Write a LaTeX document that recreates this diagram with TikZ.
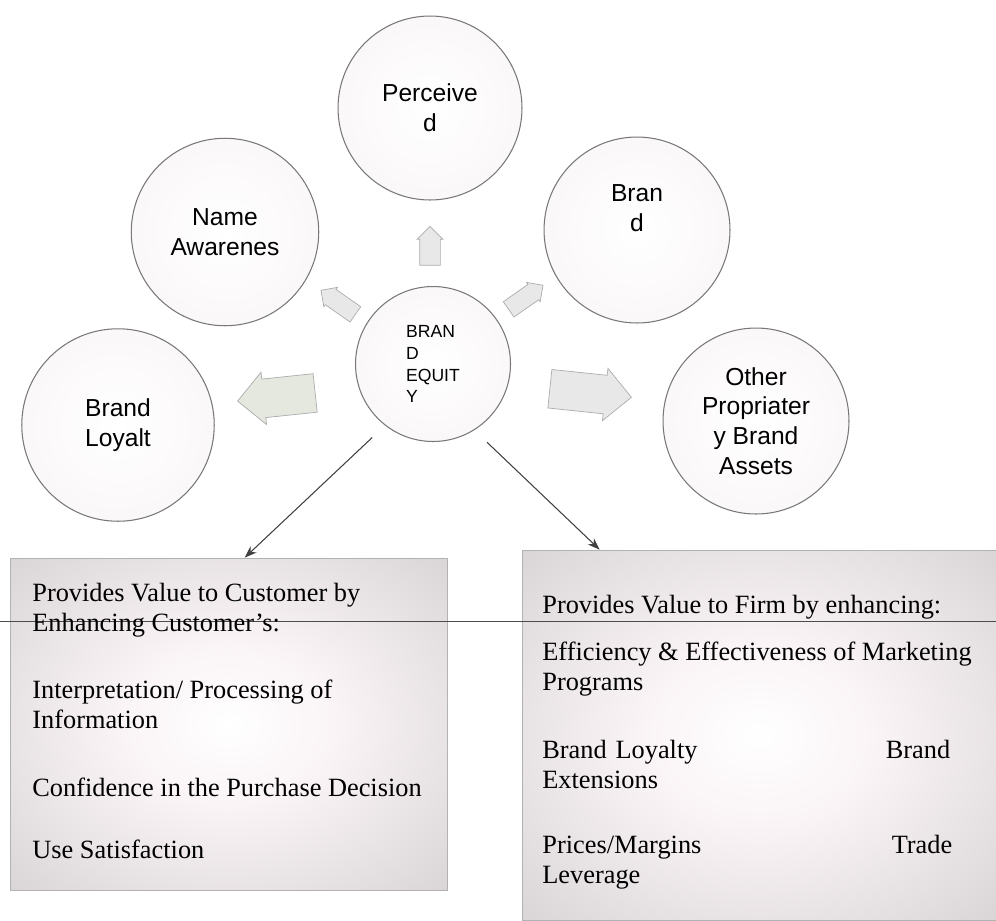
\documentclass[tikz,border=0pt]{standalone}
\usepackage{fontspec}
\setmainfont{Liberation Serif}
\setsansfont{Liberation Sans}
\usetikzlibrary{arrows.meta, shapes.arrows, calc}
\definecolor{bubbleedge}{RGB}{120,120,120}
\definecolor{bubbleshade}{RGB}{222,217,219}
\definecolor{bubblepink}{RGB}{250,246,248}
\definecolor{arrowfill}{RGB}{232,232,232}
\definecolor{arrowgreen}{RGB}{228,232,223}
\definecolor{boxgrey}{RGB}{200,196,197}
\definecolor{boxcentre}{RGB}{250,244,246}
\pgfdeclareradialshading{bubblefade}{\pgfpoint{0bp}{0bp}}{%
  color(0bp)=(white); color(30bp)=(bubblepink); color(44bp)=(bubblepink!70!bubbleshade);
  color(50bp)=(bubbleshade)}
\pgfdeclareradialshading{boxfade}{\pgfpoint{0bp}{0bp}}{%
  color(0bp)=(white); color(12bp)=(boxcentre); color(48bp)=(boxgrey); color(75bp)=(boxgrey)}
\tikzset{
  bubble/.style={circle, minimum size=3.75cm, inner sep=0pt, draw=bubbleedge,
    line width=0.6pt, shading=bubblefade,
    align=center, font=\sffamily\fontsize{14}{17}\selectfont},
  hubbubble/.style={bubble, minimum size=3.1cm, align=left,
    font=\sffamily\fontsize{10}{12.5}\selectfont},
  fatarrow/.style={single arrow, draw=gray!65, fill=arrowfill, inner xsep=0pt},
  valuebox/.style={rectangle, draw=gray!60, shading=boxfade},
  valuetext/.style={anchor=north west, inner sep=0pt, align=left,
    font=\fontsize{15}{17}\selectfont},
  link/.style={draw=black!75, line width=0.6pt, -{Stealth[length=7pt, width=5pt]},
    shorten <=10pt},
}

\begin{document}
\begin{tikzpicture}[x=0.02cm, y=-0.02cm]
\useasboundingbox (0,0) rectangle (996,920);

% the value boxes
\node[valuebox, minimum width=8.74cm, minimum height=6.64cm] (lbox) at (228.5,724) {};
\node[valuebox, minimum width=9.48cm, minimum height=7.4cm] (rbox) at (759,735) {};
\coordinate (rule1) at (0,621);
\coordinate (rule2) at (996,621);
\draw[black!70, line width=0.5pt] (rule1) -- (rule2);

\node[valuetext] (cust) at (32,583) {Provides Value to Customer by\\Enhancing Customer’s:};
\node[valuetext] (interp) at (32,680) {Interpretation/ Processing of\\Information};
\node[valuetext] (conf) at (32,778) {Confidence in the Purchase Decision};
\node[valuetext] (use) at (32,840) {Use Satisfaction};

\node[valuetext] (firm) at (542,595) {Provides Value to Firm by enhancing:};
\node[valuetext] (effic) at (542,642) {Efficiency \& Effectiveness of Marketing\\Programs};
\node[valuetext, text width=8.16cm] (loyal) at (542,740) {Brand Loyalty\hfill Brand\\Extensions};
\node[valuetext, text width=8.2cm] (price) at (542,835) {Prices/Margins\hfill Trade\\Leverage};

% the bubbles
\node[bubble, minimum size=3.68cm] (perc) at (430,108) {Perceive\\d};
\node[bubble] (name) at (225,232) {Name\\Awarenes};
\node[bubble, minimum size=3.72cm] (brand) at (637,230) {Bran\\d\\[8pt]};
\node[bubble, minimum size=3.85cm] (loyalt) at (118,425) {Brand\\Loyalt};
\node[bubble, minimum size=3.72cm] (other) at (756,421) {Other\\Propriater\\y Brand\\Assets};
\node[hubbubble] (eq) at (433,364) {BRAN\\D\\EQUIT\\Y};

% block arrows round the hub
\node[fatarrow, minimum height=0.78cm, inner ysep=0.2cm,
  single arrow head extend=0.05cm, rotate=90] (aup) at (430,251) {};
\node[fatarrow, minimum height=0.84cm, inner ysep=0.18cm,
  single arrow head extend=0.05cm, rotate=145] (aleftup) at (342,305) {};
\node[fatarrow, minimum height=0.84cm, inner ysep=0.18cm,
  single arrow head extend=0.05cm, rotate=35] (arightup) at (522,300) {};
\node[fatarrow, fill=arrowgreen, minimum height=1.56cm, inner ysep=0.38cm,
  single arrow head extend=0.14cm, rotate=186] (aleft) at (286,396) {};
\node[fatarrow, minimum height=1.64cm, inner ysep=0.38cm,
  single arrow head extend=0.14cm, rotate=-6] (aright) at (581,392) {};

% links to the boxes
\draw[link] (eq.232) -- ($(lbox.north west)+(235,0)$);
\draw[link] (eq.302) -- ($(rbox.north west)+(78,0)$);
\end{tikzpicture}
\end{document}
